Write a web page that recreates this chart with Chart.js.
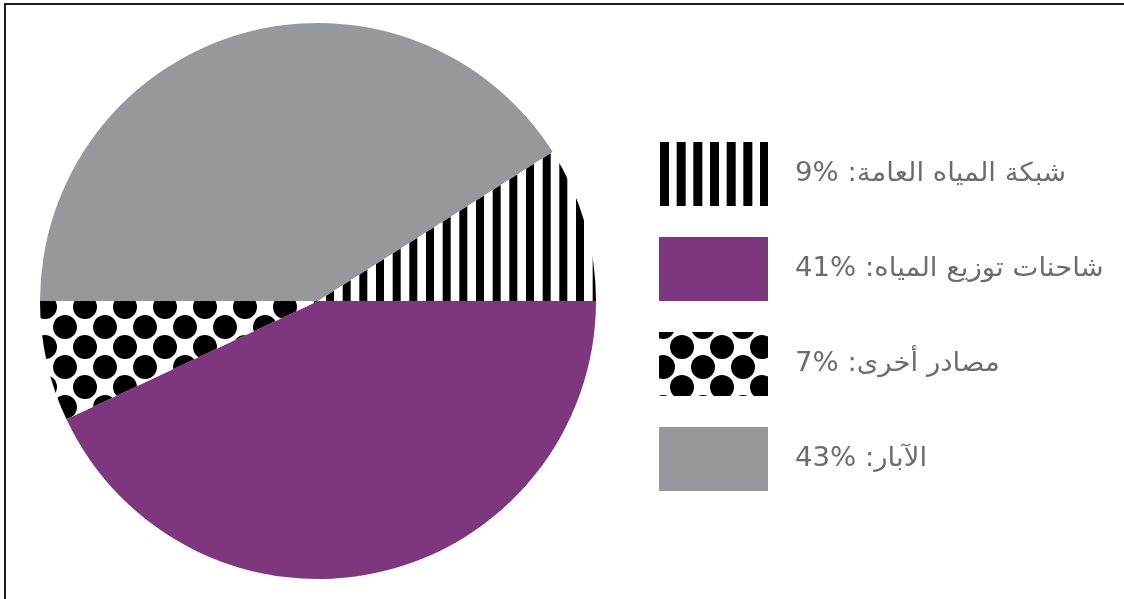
<!DOCTYPE html>
<html>
<head>
<meta charset="utf-8">
<script src="https://cdn.jsdelivr.net/npm/chart.js@4/dist/chart.umd.min.js"></script>
<style>
  html, body { margin: 0; padding: 0; background: #ffffff; }
  #wrap { position: relative; width: 1124px; height: 599px; }
</style>
</head>
<body>
<div id="wrap"><canvas id="c" width="1124" height="599"></canvas></div>
<script>
// ---- data (pie order, clockwise from 3 o'clock) ----
const categories = ['شاحنات توزيع المياه', 'مصادر أخرى', 'الآبار', 'شبكة المياه العامة'];
const sliceValues = [43, 7, 41, 9];
const fillKinds = ['purple', 'dots', 'gray', 'stripes'];
// ---- legend (as printed) ----
const legendOrder = [3, 0, 1, 2];
const legendPercents = ['9%', '41%', '7%', '43%'];

const PURPLE = '#7e377e';
const GRAY = '#96989b';

function makeStripePattern(ctx) {
  const t = document.createElement('canvas');
  t.width = 50; t.height = 10;
  const g = t.getContext('2d');
  g.fillStyle = '#fff'; g.fillRect(0, 0, 50, 10);
  g.fillStyle = '#000';
  [13.33, 30, 46.67].forEach(cx => {
    g.fillRect(cx - 4, 0, 8, 10);
    if (cx + 4 > 50) g.fillRect(cx - 4 - 50, 0, 8, 10);
  });
  return ctx.createPattern(t, 'repeat');
}
function makeDotPattern(ctx) {
  const t = document.createElement('canvas');
  t.width = 40; t.height = 40;
  const g = t.getContext('2d');
  g.fillStyle = '#fff'; g.fillRect(0, 0, 40, 40);
  g.fillStyle = '#000';
  const centers = [[5, 27], [25, 7]];
  centers.forEach(([x, y]) => {
    for (let dx = -40; dx <= 40; dx += 40) for (let dy = -40; dy <= 40; dy += 40) {
      g.beginPath(); g.arc(x + dx, y + dy, 12, 0, Math.PI * 2); g.fill();
    }
  });
  return ctx.createPattern(t, 'repeat');
}

const canvas = document.getElementById('c');
const ctx0 = canvas.getContext('2d');
const fills = {
  purple: PURPLE,
  gray: GRAY,
  stripes: makeStripePattern(ctx0),
  dots: makeDotPattern(ctx0)
};

const legendPlugin = {
  id: 'customLegend',
  beforeDraw(chart) {
    const ctx = chart.ctx;
    ctx.save();
    ctx.fillStyle = '#1e1e1e';
    ctx.fillRect(4, 3, 1120, 2);
    ctx.fillRect(4, 3, 2, 596);
    ctx.restore();
  },
  afterDraw(chart) {
    const ctx = chart.ctx;
    const boxX = 659, boxW = 109, boxH = 64, top0 = 142, step = 95;
    legendOrder.forEach((ci, i) => {
      const y = top0 + i * step;
      const kind = fillKinds[ci];
      ctx.save();
      ctx.beginPath(); ctx.rect(boxX, y, boxW, boxH); ctx.clip();
      if (kind === 'purple' || kind === 'gray') {
        ctx.fillStyle = fills[kind];
        ctx.fillRect(boxX, y, boxW, boxH);
      } else if (kind === 'stripes') {
        ctx.fillStyle = '#fff'; ctx.fillRect(boxX, y, boxW, boxH);
        ctx.fillStyle = '#000';
        for (let k = 0; k < 7; k++) ctx.fillRect(boxX + 1 + k * 16.67, y, 9, boxH);
      } else {
        ctx.fillStyle = '#fff'; ctx.fillRect(boxX, y, boxW, boxH);
        ctx.fillStyle = '#000';
        const ox = boxX + 23, oy = y + 15;
        for (let r = -1; r <= 3; r++) {
          for (let c = -1; c <= 3; c++) {
            const cx = ox + c * 40 + (r % 2 !== 0 ? -19 : 0);
            const cy = oy + r * 20;
            ctx.beginPath(); ctx.arc(cx, cy, 12, 0, Math.PI * 2); ctx.fill();
          }
        }
      }
      ctx.restore();
      ctx.save();
      ctx.direction = 'rtl';
      ctx.textAlign = 'left';
      ctx.textBaseline = 'middle';
      ctx.fillStyle = '#6b6c6e';
      ctx.font = '26px "DejaVu Sans"';
      const label = categories[ci] + ': \u200E' + legendPercents[i];
      ctx.translate(795, y + boxH / 2);
      ctx.scale(1.06, 1);
      ctx.fillText(label, 0, 0);
      ctx.restore();
    });
  }
};

new Chart(canvas, {
  type: 'pie',
  data: {
    labels: categories,
    datasets: [{
      data: sliceValues,
      backgroundColor: fillKinds.map(k => fills[k]),
      borderWidth: 0,
      hoverOffset: 0
    }]
  },
  options: {
    responsive: false,
    animation: false,
    rotation: 90,
    layout: { padding: { left: 40, right: 528, top: 23, bottom: 20 } },
    plugins: { legend: { display: false }, tooltip: { enabled: false } },
    events: []
  },
  plugins: [legendPlugin]
});
</script>
</body>
</html>
